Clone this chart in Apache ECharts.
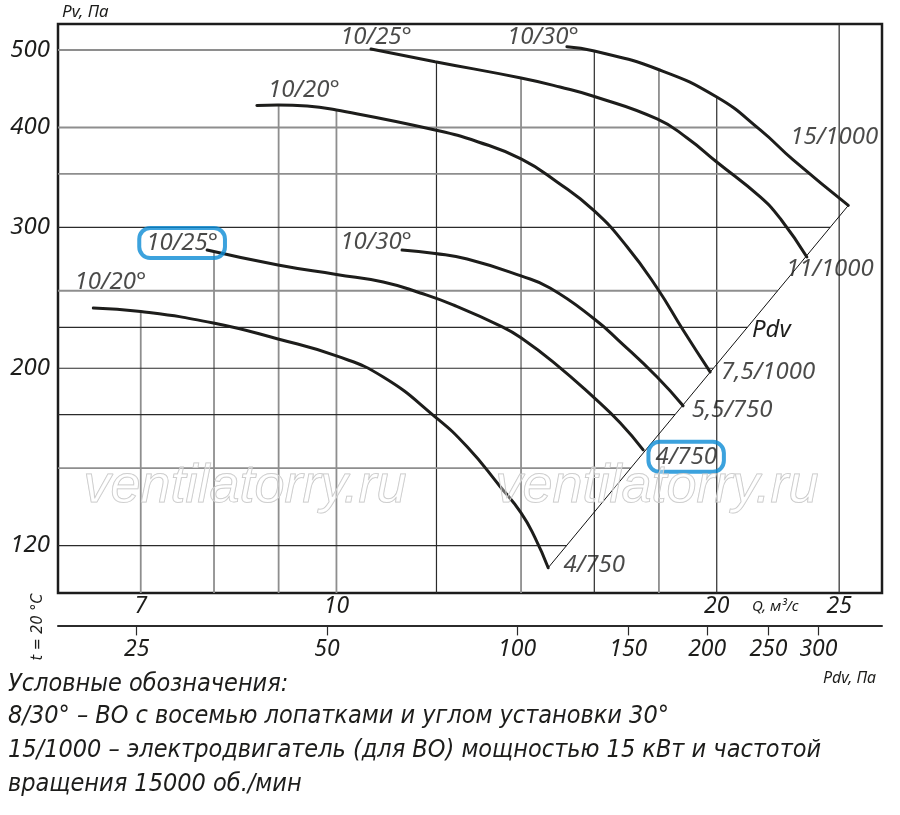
<!DOCTYPE html>
<html>
<head>
<meta charset="utf-8">
<title>Характеристика вентилятора</title>
<script src="https://cdn.jsdelivr.net/npm/echarts@6.0.0/dist/echarts.min.js"></script>
<style>
  html, body { margin: 0; padding: 0; background: #fff; }
  #chart { width: 900px; height: 815px; }
</style>
</head>
<body>
<div id="chart"></div>
<script>
// значения: Q, м3/с и Pv, Па
var bladeNames = ["10/20°", "10/25°", "10/30°", "10/20°", "10/25°", "10/30°"];
var motorNames = ["4/750", "4/750", "5,5/750", "7,5/1000", "11/1000", "15/1000"];

var q1 = [6.42, 7.0, 7.99, 8.99, 10.0, 10.89, 11.97, 12.69, 13.48, 14.0, 14.36, 14.71];
var p1 = [237.9, 235.5, 227.8, 217.6, 207.2, 195.0, 173.9, 159.5, 142.2, 131.9, 122.8, 112.6];
var q2 = [7.90, 8.99, 10.0, 10.89, 11.65, 12.37, 13.53, 14.0, 14.84, 16.0, 16.77, 17.49];
var p2 = [281.1, 269.2, 262.0, 256.4, 248.4, 240.0, 225.3, 218.3, 203.7, 183.6, 170.9, 158.1];
var q3 = [11.27, 11.97, 12.69, 14.0, 14.76, 16.0, 16.77, 17.94, 18.81];
var p3 = [281.1, 278.3, 273.9, 260.9, 252.0, 230.5, 215.8, 195.0, 179.5];
var q4 = [8.65, 8.99, 9.48, 10.0, 11.97, 12.95, 14.0, 14.95, 16.0, 16.99, 17.94, 18.81, 19.76];
var p4 = [426.2, 426.8, 425.6, 420.7, 397.2, 383.7, 365.4, 342.0, 314.6, 283.6, 252.0, 223.3, 197.9];
var q5 = [10.65, 11.97, 14.0, 15.03, 16.0, 17.94, 18.95, 20.0, 21.65, 22.50, 23.57];
var p5 = [501.5, 483.5, 461.3, 449.5, 437.4, 410.0, 388.1, 362.2, 327.5, 306.5, 275.5];
var q6 = [15.22, 16.0, 17.94, 20.0, 21.65, 22.99, 25.42];
var p6 = [504.8, 498.6, 473.4, 436.7, 397.2, 364.3, 319.6];

// шкалы
var qTicks = [7, 10, 20, 25];
var qGrid = [7, 8, 9, 10, 12, 14, 16, 18, 20, 25];
var pvTicks = [120, 200, 300, 400, 500];
var pvGrid = [120, 150, 175, 200, 225, 250, 300, 350, 400, 500];
var pdvTicks = [25, 50, 100, 150, 200, 250, 300];
var qRange = [6.02, 27.03];
var pvRange = [104.7, 538.9];
var pdvPerQ2 = 0.5177; // Pdv = k * Q^2

// оформление сетки
var heavyQ = [12, 16, 20, 25];
var heavyPv = [120, 175, 200, 225, 300];
var fullHeightQ = [25];

var FONT = '"Noto Sans", "DejaVu Sans", sans-serif';
var NARROW = '"Liberation Sans Narrow", "DejaVu Sans Condensed", sans-serif';
var BLUE = '#0b8bd5';

var curves = [
  {q: q1, p: p1}, {q: q2, p: p2}, {q: q3, p: p3},
  {q: q4, p: p4}, {q: q5, p: p5}, {q: q6, p: p6}
];

function lg(v){ return Math.log(v) / Math.LN10; }
function pt(q, p){ return [lg(q), lg(p)]; }
function last(a){ return a[a.length - 1]; }

// линия Pdv через концы характеристик
var pdvLine = {q: [last(q1), last(q6)], p: [last(p1), last(p6)]};

function pvAt(c, q){
  for (var i = 0; i < c.q.length - 1; i++) {
    if (q >= c.q[i] && q <= c.q[i + 1]) {
      var t = (lg(q) - lg(c.q[i])) / (lg(c.q[i + 1]) - lg(c.q[i]));
      return Math.pow(10, lg(c.p[i]) + t * (lg(c.p[i + 1]) - lg(c.p[i])));
    }
  }
  return null;
}
function qAt(c, p){
  var best = null;
  for (var i = 0; i < c.q.length - 1; i++) {
    var a = c.p[i], b = c.p[i + 1];
    if ((p - a) * (p - b) <= 0 && a !== b) {
      var t = (lg(p) - lg(a)) / (lg(b) - lg(a));
      var q = Math.pow(10, lg(c.q[i]) + t * (lg(c.q[i + 1]) - lg(c.q[i])));
      if (best === null || q > best) best = q;
    }
  }
  return best;
}
function envelopeTop(q){
  var top = null;
  curves.forEach(function(c){
    var v = pvAt(c, q);
    if (v !== null && (top === null || v > top)) top = v;
  });
  return top;
}
function envelopeRight(p){
  var right = null;
  curves.concat([pdvLine]).forEach(function(c){
    var v = qAt(c, p);
    if (v !== null && (right === null || v > right)) right = v;
  });
  return right === null ? qRange[1] : right;
}

function gridSeries(coords, heavy){
  return {
    type: "line", data: coords, symbol: "none", silent: true, z: 1,
    lineStyle: heavy ? {color: "#2b2b2b", width: 1.2} : {color: "#8e8e8e", width: 1.8}
  };
}

function buildSeries(){
  var list = [];
  qGrid.forEach(function(q){
    var top = fullHeightQ.indexOf(q) >= 0 ? pvRange[1] : envelopeTop(q);
    if (top !== null) list.push(gridSeries([pt(q, pvRange[0]), pt(q, top)], heavyQ.indexOf(q) >= 0));
  });
  pvGrid.forEach(function(p){
    list.push(gridSeries([pt(qRange[0], p), pt(envelopeRight(p), p)], heavyPv.indexOf(p) >= 0));
  });

  list.push({
    type: "line", silent: true, symbol: "none", z: 3,
    data: [pt(pdvLine.q[0], pdvLine.p[0]), pt(pdvLine.q[1], pdvLine.p[1])],
    lineStyle: {color: "#111", width: 1}
  });

  curves.forEach(function(c){
    list.push({
      type: "line", silent: true, symbol: "none", smooth: 0.5, z: 4,
      data: c.q.map(function(q, i){ return pt(q, c.p[i]); }),
      lineStyle: {color: "#1d1d1b", width: 3, cap: "round"}
    });
  });

  // подписи у начала и конца характеристик
  var startOffsets = [[17, -26], [-25, -7], [-26, -8], [47, -15], [5, -12], [-24, -10]];
  var endOffsets = [[46, -3], [43, 7], [49, 4], [58, 0], [23, 12], [-14, -68]];
  var boxed = [1];
  var labelData = [];
  curves.forEach(function(c, i){
    var box = boxed.indexOf(i) >= 0;
    labelData.push(labelItem(pt(c.q[0], c.p[0]), bladeNames[i], startOffsets[i], box));
    labelData.push(labelItem(pt(last(c.q), last(c.p)), motorNames[i], endOffsets[i], box));
  });
  list.push({
    type: "scatter", silent: true, symbolSize: 1, z: 6,
    itemStyle: {color: "rgba(0,0,0,0)"},
    data: labelData
  });
  return list;
}

function labelItem(value, text, offset, box){
  var label = {
    show: true, position: "inside", offset: offset, formatter: text,
    color: "#1d1d1b", fontFamily: FONT, fontStyle: "italic", fontSize: 24
  };
  if (box) {
    label.borderColor = BLUE;
    label.borderWidth = 4;
    label.borderRadius = 11;
    label.padding = [4, 7, 2, 7];
  }
  return {value: value, label: label};
}

function toPa(v){ return String(Math.round(Math.pow(10, v))); }

function txt(x, y, text, size, extra){
  var el = {
    type: "text", x: x, y: y, z: 50, silent: true,
    style: {
      text: text, fill: "#1d1d1b", fontSize: size, fontStyle: "italic", fontFamily: FONT,
      align: "left", verticalAlign: "middle", textAlign: "left", textVerticalAlign: "middle"
    }
  };
  if (extra) {
    for (var k in extra) {
      if (k === "style") { for (var s in extra.style) el.style[s] = extra.style[s]; }
      else el[k] = extra[k];
    }
  }
  return el;
}

function watermark(x){
  return txt(x, 487, "ventilatorry.ru", 54, {
    z: 60,
    style: {fill: "rgba(255,255,255,0.35)", stroke: "#c4c4c4", lineWidth: 1,
            fontFamily: '"Liberation Sans", sans-serif', align: "center", textAlign: "center"}
  });
}

window.onload = function(){
  var myChart = echarts.init(document.querySelector("#chart"), null, {renderer: "canvas"});
  var option = {
    animation: false,
    backgroundColor: "#fff",
    grid: {
      left: 58, top: 24, right: 18, bottom: 222,
      show: true, borderColor: "#1c1c1c", borderWidth: 2.5, backgroundColor: "transparent"
    },
    xAxis: [{
      type: "value", min: lg(qRange[0]), max: lg(qRange[1]),
      axisLine: {show: false}, axisTick: {show: false}, splitLine: {show: false},
      axisLabel: {
        customValues: qTicks.map(lg), formatter: toPa, margin: 2,
        color: "#1d1d1b", fontFamily: FONT, fontStyle: "italic", fontSize: 23
      }
    }, {
      type: "value", position: "bottom", offset: 32.4,
      min: lg(pdvPerQ2 * qRange[0] * qRange[0]), max: lg(pdvPerQ2 * qRange[1] * qRange[1]),
      axisLine: {show: true, lineStyle: {color: "#2b2b2b", width: 2}},
      axisTick: {show: true, customValues: pdvTicks.map(lg), length: 10, lineStyle: {color: "#2b2b2b", width: 1.2}},
      splitLine: {show: false},
      axisLabel: {
        customValues: pdvTicks.map(lg), formatter: toPa, margin: 13,
        color: "#1d1d1b", fontFamily: FONT, fontStyle: "italic", fontSize: 23
      }
    }],
    yAxis: {
      type: "value", min: lg(pvRange[0]), max: lg(pvRange[1]),
      axisLine: {show: false}, axisTick: {show: false}, splitLine: {show: false},
      axisLabel: {
        customValues: pvTicks.map(lg), formatter: toPa, margin: 8,
        color: "#1d1d1b", fontFamily: FONT, fontStyle: "italic", fontSize: 24
      }
    },
    graphic: [
      txt(62, 12, "Pv, Па", 17),
      txt(752, 607, "Q, м³/с", 15),
      txt(823, 678, "Pdv, Па", 16),
      txt(752, 330, "Pdv", 24),
      txt(38, 627, "t = 20 °C", 16, {rotation: Math.PI / 2, style: {align: "center", textAlign: "center", fontFamily: NARROW}}),
      watermark(245),
      watermark(657),
      txt(8, 684, "Условные обозначения:", 25, {style: {fontFamily: NARROW}}),
      txt(8, 716, "8/30° – ВО с восемью лопатками и углом установки 30°", 25, {style: {fontFamily: NARROW}}),
      txt(8, 750, "15/1000 – электродвигатель (для ВО) мощностью 15 кВт и частотой", 25, {style: {fontFamily: NARROW}}),
      txt(8, 784, "вращения 15000 об./мин", 25, {style: {fontFamily: NARROW}})
    ],
    series: buildSeries()
  };
  myChart.setOption(option);
  window.addEventListener("resize", function(){ myChart.resize(); }, false);
};
</script>
</body>
</html>
